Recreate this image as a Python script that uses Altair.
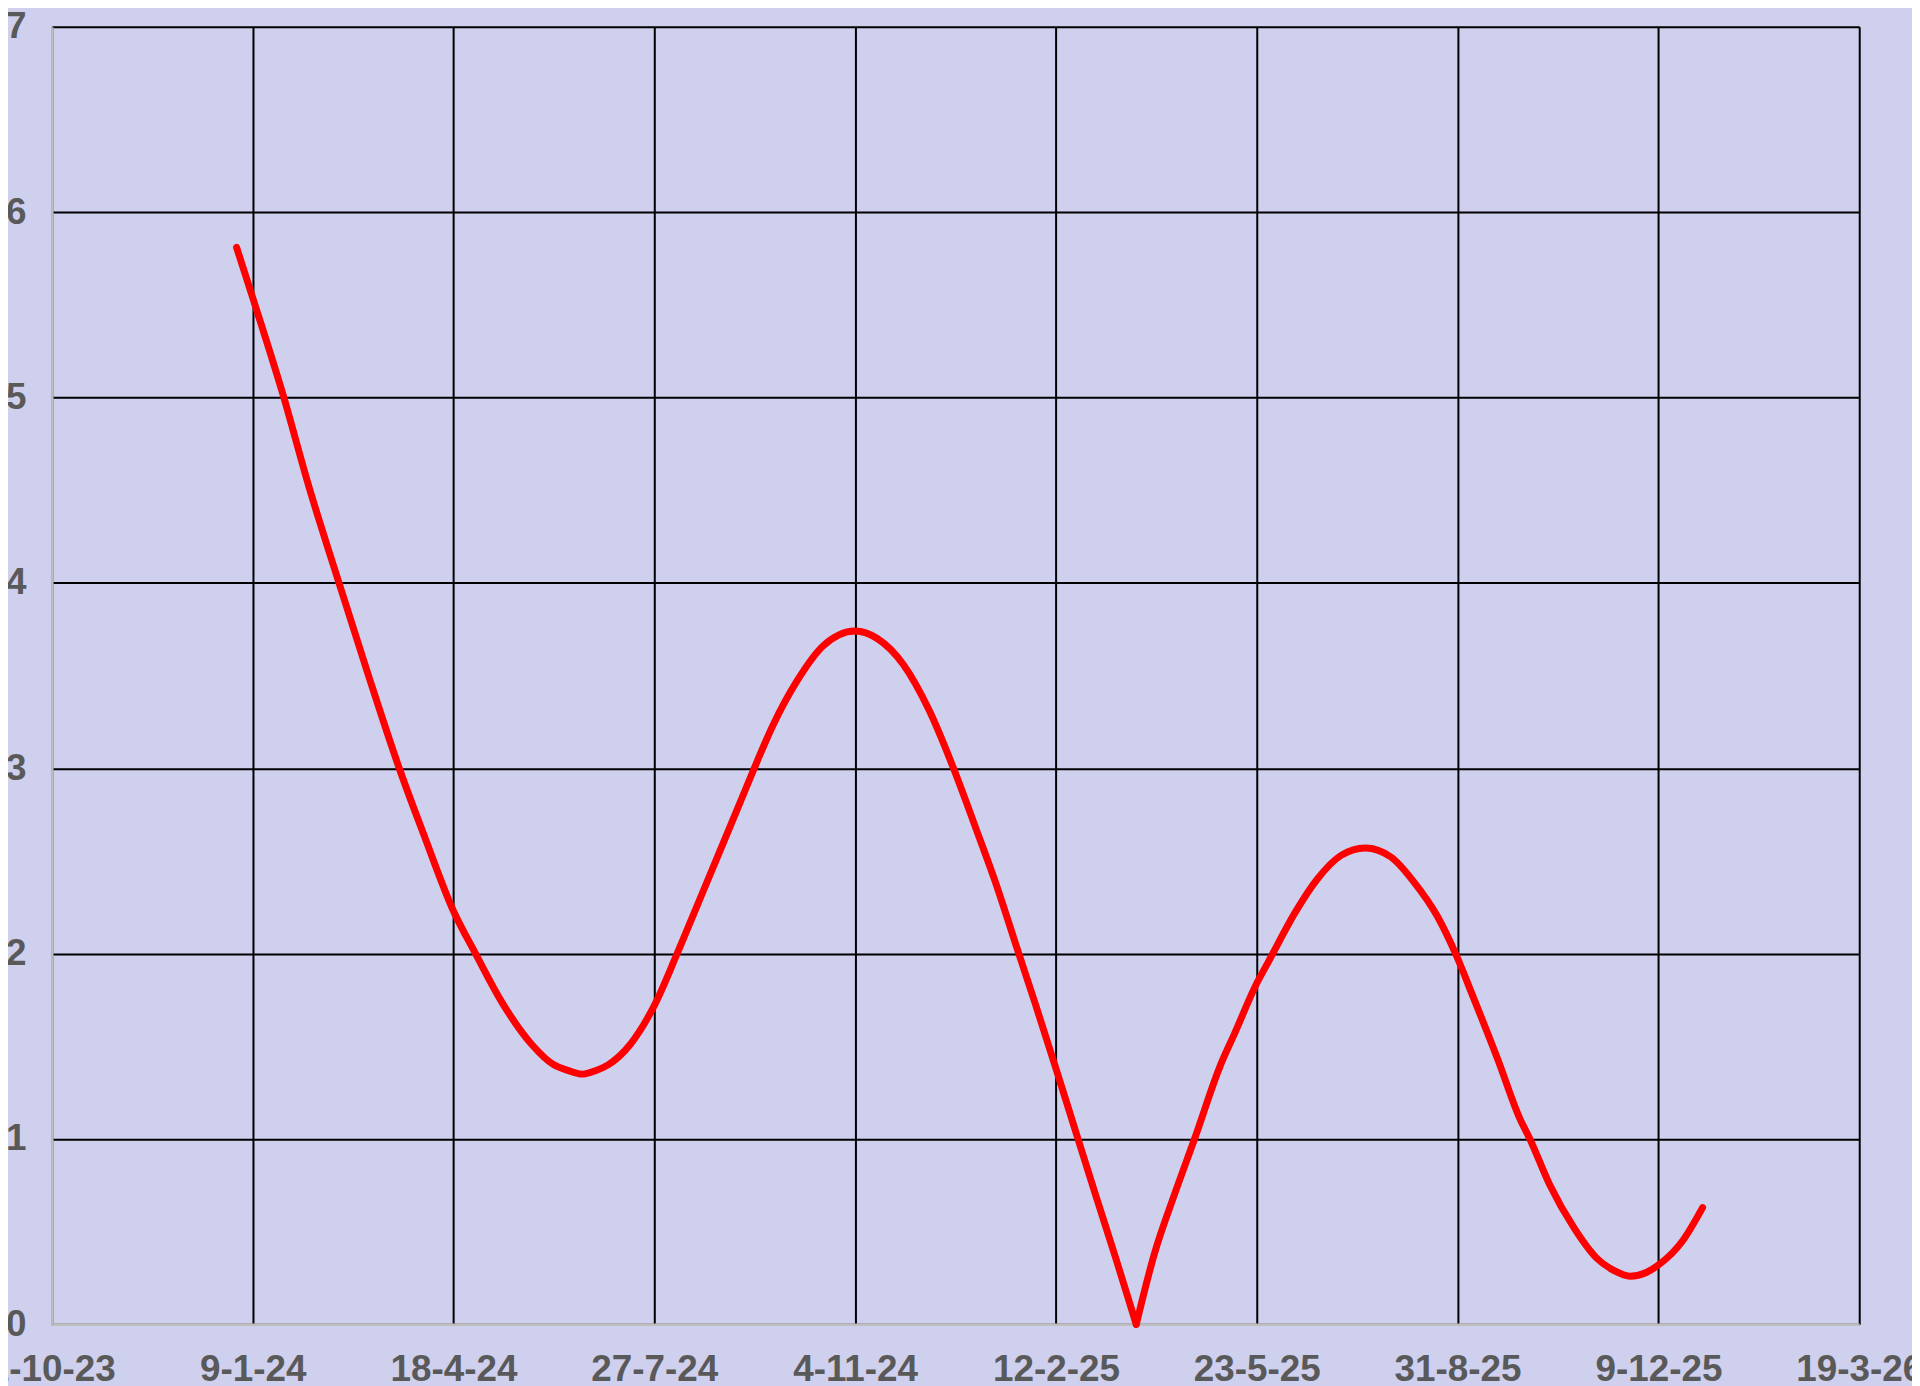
import altair as alt
import pandas as pd

# days since 1-10-23 and the value read at that day
days = [92, 100, 115, 128, 143, 158, 173, 186, 200, 211, 224, 239, 250, 257, 264,
        271, 277, 288, 300, 311, 321, 331, 341, 349, 359, 371, 384, 392, 400, 411,
        424, 437, 449, 460, 471, 480, 490, 500, 511, 520, 530, 540, 549, 559, 569,
        582, 589, 600, 606, 619, 630, 642, 654, 667, 678, 690, 699, 708, 720, 731,
        736, 746, 758, 769, 778, 786, 794, 800, 812, 822]
values = [5.81, 5.54, 5.02, 4.52, 4.00, 3.49, 3.00, 2.62, 2.23, 2.00, 1.74, 1.51, 1.40, 1.37, 1.35,
          1.37, 1.40, 1.51, 1.72, 1.99, 2.25, 2.51, 2.77, 2.98, 3.23, 3.47, 3.66, 3.72, 3.74, 3.70,
          3.56, 3.31, 3.00, 2.68, 2.35, 2.05, 1.72, 1.38, 1.00, 0.69, 0.35, 0.00, 0.38, 0.70, 1.00,
          1.40, 1.57, 1.84, 1.96, 2.22, 2.40, 2.53, 2.57, 2.52, 2.39, 2.20, 2.00, 1.76, 1.43, 1.11,
          1.00, 0.75, 0.52, 0.36, 0.29, 0.26, 0.28, 0.32, 0.45, 0.63]
cusp_day = 540  # the sharp V touching zero
start_date = "2023-10-01"
tick_step_days = 100
tick_count = 10
y_ticks = [0, 1, 2, 3, 4, 5, 6, 7]

start = pd.Timestamp(start_date)
rows = []
for d, v in zip(days, values):
    date = (start + pd.Timedelta(days=d)).strftime("%Y-%m-%d")
    if d <= cusp_day:
        rows.append({"date": date, "value": v, "part": "a"})
    if d >= cusp_day:
        rows.append({"date": date, "value": v, "part": "b"})
df = pd.DataFrame(rows)

tick_dates = [start + pd.Timedelta(days=tick_step_days * i) for i in range(tick_count)]
x_values = [alt.DateTime(year=d.year, month=d.month, date=d.day, utc=True) for d in tick_dates]

bg = "#CFCFEE"
font = "Liberation Sans"

chart = alt.Chart(df).mark_line(
    color="#FF0000", strokeWidth=7, strokeCap="round", strokeJoin="round",
    interpolate="monotone"
).encode(
    x=alt.X("date:T",
            scale=alt.Scale(type="utc", domain=[x_values[0], x_values[-1]], nice=False),
            axis=alt.Axis(values=x_values,
                          labelExpr="utcFormat(datum.value, '%-d-%-m-%y')",
                          title=None, ticks=False, tickSize=0, labelPadding=27,
                          labelFlush=False, labelOverlap=False)),
    y=alt.Y("value:Q",
            scale=alt.Scale(domain=[0, 7], nice=False, zero=True),
            axis=alt.Axis(values=y_ticks, format="d", title=None, ticks=False, tickSize=0,
                          labelPadding=26, labelFlush=False, labelOverlap=False)),
    detail="part:N",
).properties(
    width=1815, height=1303,
    autosize=alt.AutoSizeParams(type="none"),
    padding={"left": 44, "top": 16, "right": 53, "bottom": 59},
    background=bg,
).configure_view(
    fill=bg, stroke=None
).configure_axis(
    grid=True, gridColor="#000000", gridWidth=2, gridOpacity=1,
    domain=True, domainColor="#BFBFBF", domainWidth=2.5,
    labelFont=font, labelFontSize=37, labelFontWeight="bold", labelColor="#595959",
)

chart.save("out.html", embed_options={"renderer": "svg", "actions": False})
